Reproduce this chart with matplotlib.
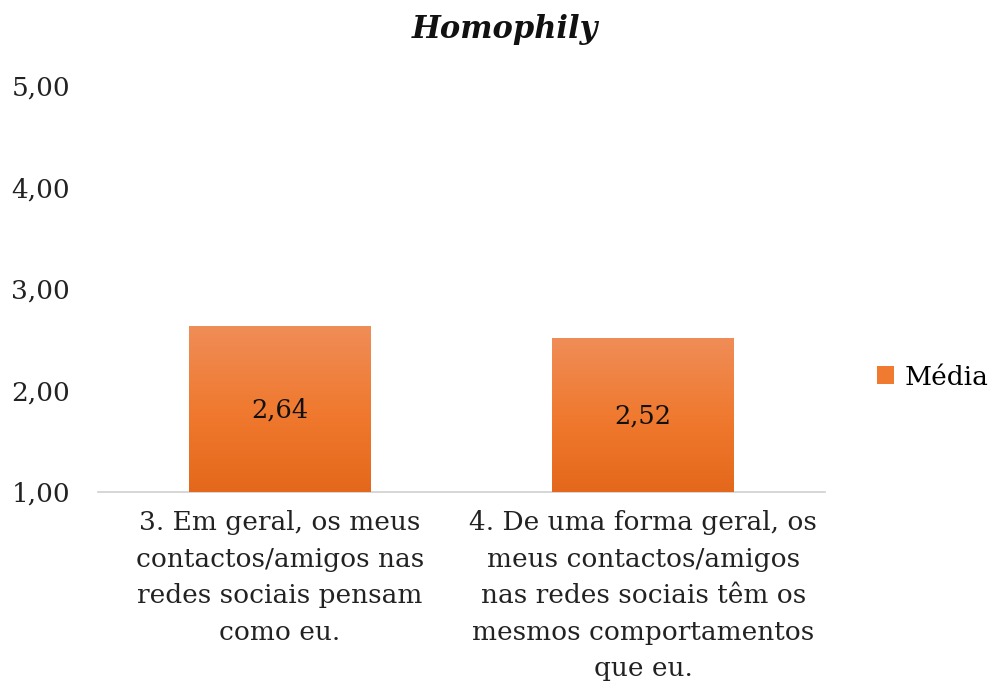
import matplotlib

matplotlib.use("Agg")

import numpy as np
import matplotlib.pyplot as plt
from matplotlib.colors import LinearSegmentedColormap
from matplotlib.patches import Patch

# Datos
categorias = [
    "3. Em geral, os meus\ncontactos/amigos nas\nredes sociais pensam\ncomo eu.",
    "4. De uma forma geral, os\nmeus contactos/amigos\nnas redes sociais têm os\nmesmos comportamentos\nque eu.",
]
medias = [2.64, 2.52]
etiquetas = ["2,64", "2,52"]
yticks = [1, 2, 3, 4, 5]
ytick_labels = ["1,00", "2,00", "3,00", "4,00", "5,00"]

FONT = "DejaVu Serif"
plt.rcParams["font.family"] = FONT

degradado = LinearSegmentedColormap.from_list(
    "naranja", ["#e4681b", "#f07a30", "#ef8d58"]
)

fig = plt.figure(figsize=(9.94, 6.83), dpi=100)
ax = fig.add_axes([0.0986, 0.2797, 0.7314, 0.5944])

x = np.arange(len(categorias))
barras = ax.bar(x, [m - 1 for m in medias], bottom=1, width=0.5,
                color="#f07a30", zorder=2)

# degradado vertical dentro de cada barra
grad = np.linspace(0, 1, 256).reshape(-1, 1)
for b in barras:
    x0, y0 = b.get_x(), b.get_y()
    w, h = b.get_width(), b.get_height()
    im = ax.imshow(grad, cmap=degradado, origin="lower", aspect="auto",
                   extent=(x0, x0 + w, y0, y0 + h), zorder=3)
    im.set_clip_path(b)

for xi, m, t in zip(x, medias, etiquetas):
    ax.text(xi, 1 + (m - 1) / 2 - 0.01, t, ha="center", va="center",
            fontsize=18.5, color="#111111", zorder=4)

ax.set_xlim(-0.5, 1.5)
ax.set_ylim(1, 5)
ax.set_yticks(yticks)
ax.set_yticklabels(ytick_labels, fontsize=19, color="#222222")
ax.set_xticks(x)
ax.set_xticklabels(categorias, fontsize=19, color="#222222", linespacing=1.58,
                   va="top")
ax.tick_params(axis="both", length=0)
ax.tick_params(axis="y", pad=20)
ax.tick_params(axis="x", pad=13)

for s in ["top", "right", "left"]:
    ax.spines[s].set_visible(False)
ax.spines["bottom"].set_color("#d0d0d0")
ax.spines["bottom"].set_linewidth(1.2)

fig.text(0.508, 0.957, "Homophily", ha="center", va="center", fontsize=22,
         weight="bold", style="italic", color="#111111")

leg = [Patch(facecolor="#f07a30", edgecolor="none", label="Média")]
fig.legend(handles=leg, loc="center left", bbox_to_anchor=(0.858, 0.448),
           frameon=False, fontsize=19, handlelength=0.65, handleheight=0.65,
           handletextpad=0.4)

fig.savefig("out.png", dpi=100)
